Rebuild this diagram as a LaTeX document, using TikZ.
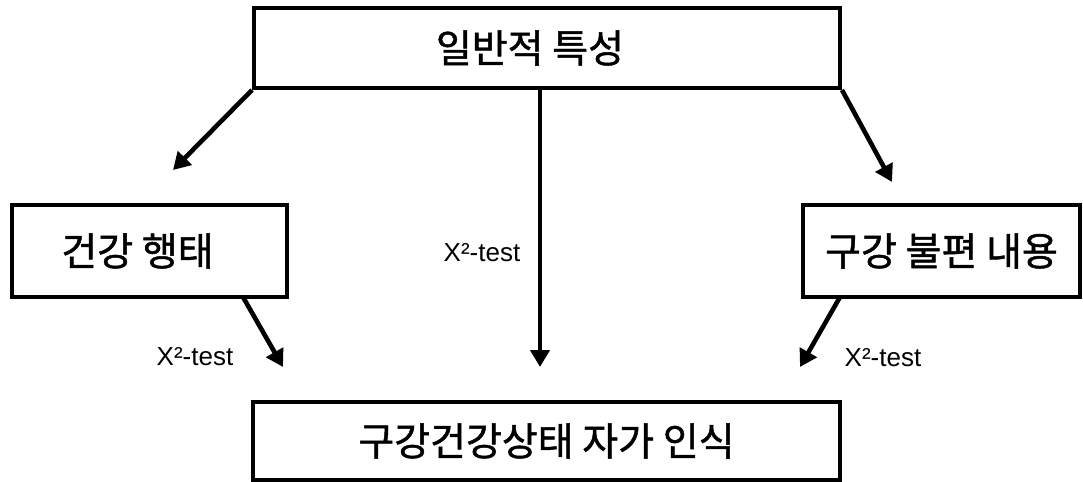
\documentclass[tikz,border=0pt]{standalone}
\usepackage{fontspec}
\newfontfamily\kr[FakeBold=1.2]{Noto Sans CJK KR}
\newfontfamily\lab{Liberation Sans}
\usetikzlibrary{arrows.meta}
\begin{document}
\begin{tikzpicture}[x=0.5pt,y=-0.5pt,
  box/.style={draw,line width=2pt,inner sep=0pt,font=\kr\fontsize{19.5pt}{21pt}\selectfont},
  conn/.style={line width=2.3pt,-{Triangle[length=8.5pt,width=9.5pt]}},
  lbl/.style={font=\lab\fontsize{13pt}{15pt}\selectfont,inner sep=0pt}]
\useasboundingbox (0,0) rectangle (1083,482);
\node[box,minimum width=293pt,minimum height=40pt] (top) at (547,48) {일반적 특성\rule{17pt}{0pt}};
\node[box,minimum width=137.5pt,minimum height=46pt] (left) at (149.5,251) {건강 행태\rule{12pt}{0pt}};
\node[box,minimum width=138.5pt,minimum height=46pt] (right) at (941.5,251) {구강 불편 내용};
\node[box,minimum width=293.5pt,minimum height=39pt] (bottom) at (546.5,441) {구강건강상태 자가 인식};
\coordinate (tl) at (173,170);
\coordinate (tr) at (892,182);
\coordinate (ls) at (243,297);
\coordinate (le) at (283,367);
\coordinate (rs) at (840,297);
\coordinate (re) at (800,367);
\coordinate (cs) at (540,88);
\coordinate (ce) at (540,367);
\draw[conn] (top.south west) -- (tl);
\draw[conn] (top.south east) -- (tr);
\draw[conn] (cs) -- (ce);
\draw[conn] (ls) -- (le);
\draw[conn] (rs) -- (re);
\node[lbl] (l1) at (195,357) {X²-test};
\node[lbl] (l2) at (482,253) {X²-test};
\node[lbl] (l3) at (883,358) {X²-test};
\end{tikzpicture}
\end{document}
